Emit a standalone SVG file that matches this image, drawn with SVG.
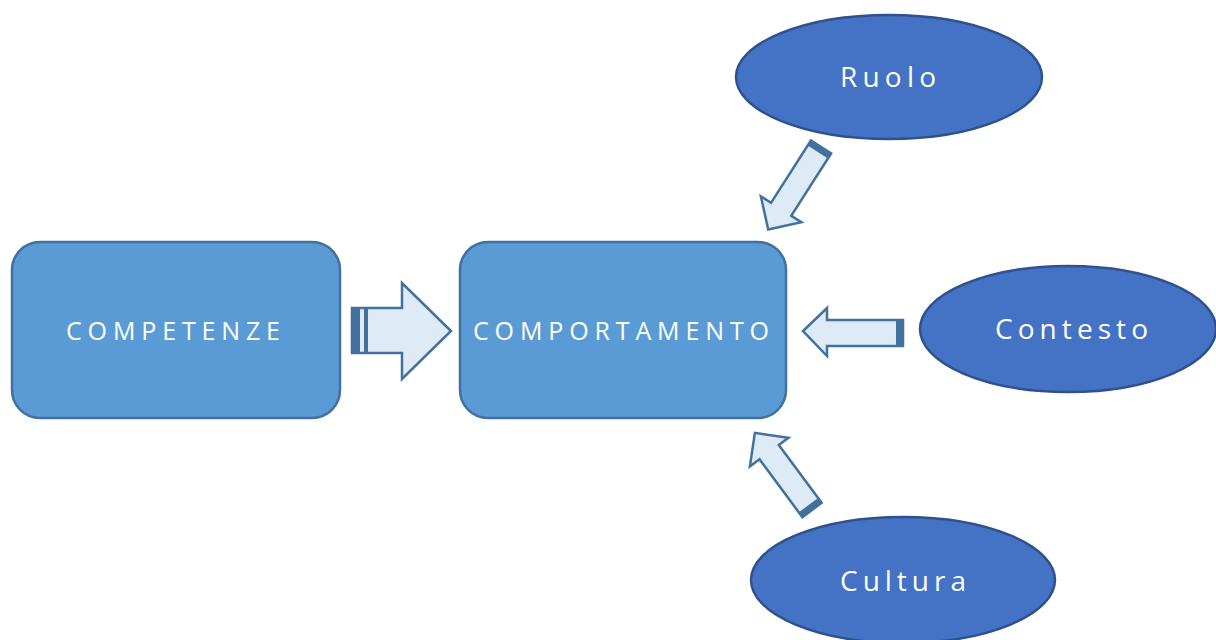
<svg xmlns="http://www.w3.org/2000/svg" width="1216" height="640" viewBox="0 0 1216 640">
<style>
.box{fill:#5B9BD5;stroke:#41719C;stroke-width:2.5}
.ell{fill:#4472C4;stroke:#2F528F;stroke-width:2.5}
.arr{fill:#DEEBF7;stroke:#41719C;stroke-width:2.5;stroke-linejoin:miter}
.band{fill:#41719C}
.t{fill:#fff;font-family:"Open Sans","Noto Sans",sans-serif;font-size:25px}
.te{fill:#fff;font-family:"Open Sans","Noto Sans",sans-serif;font-size:28px}
</style>
<rect width="1216" height="640" fill="#fff"/>
<g id="competenze">
<rect class="box" x="12" y="242" width="328" height="176" rx="28"/>
<text class="t" x="66" y="340" textLength="214" lengthAdjust="spacing">COMPETENZE</text>
</g>
<g id="comportamento">
<rect class="box" x="460" y="242" width="326" height="176" rx="28"/>
<text class="t" x="473" y="340" textLength="296" lengthAdjust="spacing">COMPORTAMENTO</text>
</g>
<g id="ruolo">
<ellipse class="ell" cx="889" cy="77" rx="153" ry="62"/>
<text class="te" x="840" y="87" textLength="96" lengthAdjust="spacing">Ruolo</text>
</g>
<g id="contesto">
<ellipse class="ell" cx="1068" cy="329" rx="148" ry="63"/>
<text class="te" x="995" y="339" textLength="153" lengthAdjust="spacing">Contesto</text>
</g>
<g id="cultura">
<ellipse class="ell" cx="903" cy="580" rx="152" ry="63"/>
<text class="te" x="840" y="591" textLength="126" lengthAdjust="spacing">Cultura</text>
</g>
<g id="connectors">
<g id="arrow-competenze">
<path class="arr" d="M352,308 H402 V283 L451,331 L402,379 V353 H352 Z"/>
<rect class="band" x="352" y="308" width="8" height="45"/>
<rect class="band" x="364" y="308" width="4" height="45"/>
</g>
<g id="arrow-contesto">
<path class="arr" d="M903,320 H827 V308 L803,331 L827,356 V346 H903 Z"/>
<rect class="band" x="896" y="320" width="7" height="26"/>
</g>
<g id="arrow-ruolo" transform="translate(821,147) rotate(122.6)">
<path class="arr" d="M0,-12 H74 V-24 L98,0 L74,24 V12 H0 Z"/>
<rect class="band" x="0" y="-12" width="6" height="24"/>
</g>
<g id="arrow-cultura" transform="translate(812,510) rotate(233.5)">
<path class="arr" d="M0,-12 H72 V-24 L96,0 L72,24 V12 H0 Z"/>
<rect class="band" x="0" y="-12" width="6" height="24"/>
</g>
</g>
</svg>
